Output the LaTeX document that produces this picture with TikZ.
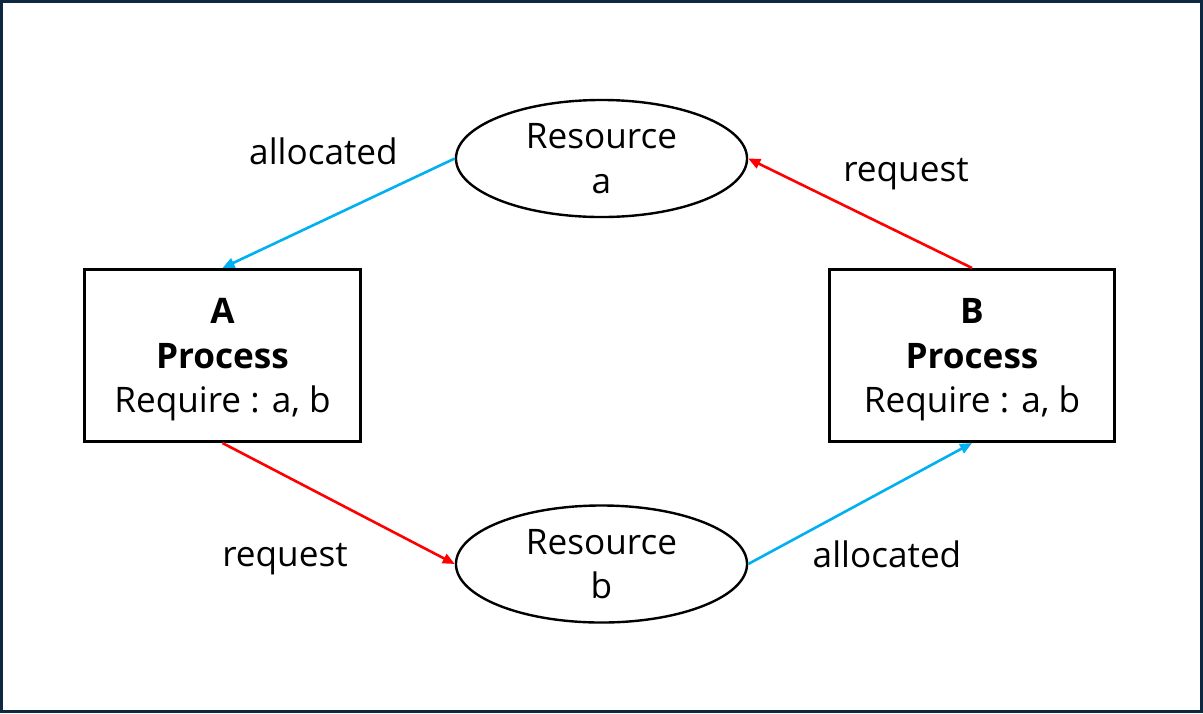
\documentclass[tikz,border=0pt]{standalone}
\usepackage{fontspec}
\setmainfont{Open Sans}
\usetikzlibrary{shapes.geometric,arrows.meta}
\definecolor{framecol}{RGB}{14,40,65}
\definecolor{alloccol}{RGB}{0,176,240}
\definecolor{reqcol}{RGB}{255,0,0}
\begin{document}
\begin{tikzpicture}[x=0.025cm,y=-0.025cm,
		txt/.style={font=\fontsize{25}{31.5}\selectfont},
		proc/.style={txt,draw,line width=0.075cm,minimum height=4.3cm,align=center,text depth=0pt,inner sep=0pt},
		res/.style={txt,draw,ellipse,line width=0.06cm,minimum width=7.275cm,minimum height=2.925cm,align=center,inner sep=0pt},
		lbl/.style={txt,anchor=base,inner sep=0pt},
		conn/.style={line width=0.065cm,-{Triangle[length=0.3cm,width=0.25cm]}}]
		\useasboundingbox (0,0) rectangle (1203,713);
		\draw[framecol,line width=0.075cm] (1.5,1.5) rectangle (1201.5,711.5);
		\node[proc,minimum width=6.9cm] (A) at (222.5,355.5) {\textbf{A}\\\textbf{Process}\\Require : a, b};
		\node[proc,minimum width=7.125cm] (B) at (972,355.5) {\textbf{B}\\\textbf{Process}\\Require : a, b};
		\node[res] (Ra) at (601.5,158.5) {Resource\\a};
		\node[res] (Rb) at (601.5,564) {Resource\\b};
		\node[lbl] (allocA) at (323.5,164) {allocated};
		\node[lbl] (reqB) at (906,181.5) {request};
		\node[lbl] (reqA) at (285,566.5) {request};
		\node[lbl] (allocB) at (887,567.5) {allocated};
		\draw[conn,alloccol] (Ra.west) -- (A.north);
		\draw[conn,reqcol] (A.south) -- (Rb.west);
		\draw[conn,alloccol] (Rb.east) -- (B.south);
		\draw[conn,reqcol] (B.north) -- (Ra.east);
	\end{tikzpicture}
\end{document}
